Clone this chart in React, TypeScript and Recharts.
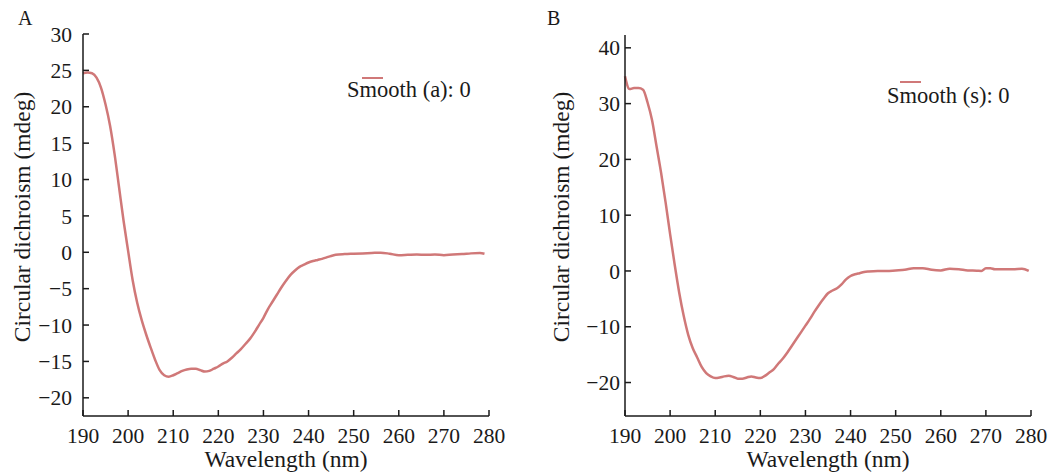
import React from 'react';
import { LineChart, Line, XAxis, YAxis, Legend } from 'recharts';

// Panel A: wavelength (nm) / circular dichroism (mdeg)
const wavelengthA = [
  190, 191, 192, 193, 194, 195, 196, 197, 198, 199, 200, 201, 202, 203, 204, 205, 206, 207, 208, 209,
  210, 211, 212, 213, 214, 215, 216, 217, 218, 219, 220, 221, 222, 223, 224, 225, 226, 227, 228, 229,
  230, 231, 232, 233, 234, 235, 236, 237, 238, 239, 240, 241, 242, 243, 244, 245, 246, 248, 250, 252,
  254, 256, 258, 260, 262, 264, 266, 268, 270, 272, 274, 276, 278, 279,
];
const cdA = [
  24.6, 24.7, 24.6, 24.0, 22.6, 20.3, 17.4, 13.5, 8.9, 4.3, 0.2, -3.8, -6.9, -9.3, -11.3, -13.1, -14.8, -16.2, -16.9, -17.1,
  -16.9, -16.6, -16.3, -16.1, -16.0, -16.0, -16.2, -16.4, -16.3, -16.0, -15.7, -15.3, -15.0, -14.5, -13.9, -13.3, -12.6, -11.9, -11.0, -10.0,
  -9.0, -7.8, -6.8, -5.8, -4.8, -3.9, -3.1, -2.5, -2.0, -1.7, -1.4, -1.2, -1.05, -0.9, -0.7, -0.5, -0.35, -0.25, -0.2, -0.15,
  -0.1, -0.05, -0.2, -0.4, -0.35, -0.3, -0.35, -0.3, -0.4, -0.3, -0.25, -0.15, -0.1, -0.2,
];

// Panel B
const wavelengthB = [
  190, 191, 192, 193, 194, 195, 196, 197, 198, 199, 200, 201, 202, 203, 204, 205, 206, 207, 208, 209,
  210, 211, 212, 213, 214, 215, 216, 217, 218, 219, 220, 221, 222, 223, 224, 225, 226, 227, 228, 229,
  230, 231, 232, 233, 234, 235, 236, 237, 238, 239, 240, 241, 242, 243, 244, 246, 248, 250, 252, 254,
  256, 258, 260, 262, 264, 266, 268, 269, 270, 271, 272, 274, 276, 278, 279.5,
];
const cdB = [
  34.9, 32.6, 32.8, 32.8, 32.5, 30.2, 27.0, 22.3, 17.6, 12.3, 6.6, 1.2, -3.8, -8.0, -11.4, -13.8, -15.5, -17.2, -18.3, -18.9,
  -19.2, -19.1, -18.9, -18.8, -19.0, -19.3, -19.3, -19.1, -18.9, -19.1, -19.2, -18.8, -18.2, -17.6, -16.6, -15.7, -14.6, -13.4, -12.2, -11.0,
  -9.8, -8.6, -7.3, -6.1, -5.0, -4.0, -3.5, -3.1, -2.4, -1.5, -0.9, -0.6, -0.4, -0.2, -0.1, 0.0, 0.0, 0.1, 0.2, 0.5,
  0.5, 0.2, 0.1, 0.4, 0.3, 0.1, 0.05, 0.0, 0.5, 0.5, 0.3, 0.3, 0.3, 0.4, 0.0,
];

const xTicks = [190, 200, 210, 220, 230, 240, 250, 260, 270, 280];
const yTicksA = [-20, -15, -10, -5, 0, 5, 10, 15, 20, 25, 30];
const yTicksB = [-20, -10, 0, 10, 20, 30, 40];

const FONT = '"Liberation Serif", "Times New Roman", serif';
const INK = '#1a1a1a';
const LINE = '#d07878';

const toRows = (xs: number[], ys: number[]) => xs.map((x, i) => ({ nm: x, cd: ys[i] }));

type PanelProps = {
  letter: string;
  name: string;
  rows: { nm: number; cd: number }[];
  yTicks: number[];
  yDomain: [number, number];
  left: number;
  width: number;
  margin: { top: number; right: number; bottom: number; left: number };
  yTickGap: number;
  yTitleX: number;
  legendPos: { left: number; top: number; lineLeft: number; textTop: number };
};

const Panel = (p: PanelProps) => {
  const yTitle = () => (
    <text
      x={p.yTitleX}
      y={217}
      transform={`rotate(-90, ${p.yTitleX}, 217)`}
      textAnchor="middle"
      dominantBaseline="central"
      fontFamily={FONT}
      fontSize={23.5}
      fill={INK}
    >
      Circular dichroism (mdeg)
    </text>
  );
  const xTitle = () => (
    <text
      x={p.margin.left + 60 + (p.width - p.margin.left - 60 - p.margin.right) / 2}
      y={467}
      textAnchor="middle"
      fontFamily={FONT}
      fontSize={23.5}
      fill={INK}
    >
      Wavelength (nm)
    </text>
  );
  const legend = (props: any) => (
    <div>
      {(props.payload || []).map((e: any) => (
        <div key={e.value} style={{ position: 'relative', width: 130, height: 30, fontFamily: FONT, fontSize: 22.5, color: INK }}>
          <div style={{ position: 'absolute', left: p.legendPos.lineLeft, top: 0, width: 21, height: 2, background: e.color }} />
          <div style={{ position: 'absolute', left: 0, top: p.legendPos.textTop, lineHeight: '22px', whiteSpace: 'nowrap' }}>
            {e.value}
          </div>
        </div>
      ))}
    </div>
  );
  return (
    <div style={{ position: 'absolute', left: p.left, top: 0 }}>
      <div style={{ position: 'absolute', left: p.left === 0 ? 18 : 22, top: 8, fontFamily: FONT, fontSize: 20, lineHeight: '20px', color: INK }}>
        {p.letter}
      </div>
      <LineChart width={p.width} height={475} data={p.rows} margin={p.margin}>
        <XAxis
          dataKey="nm"
          type="number"
          domain={[190, 280]}
          ticks={xTicks}
          interval={0}
          height={30}
          tickSize={-6}
          tickMargin={18}
          axisLine={{ stroke: INK, strokeWidth: 1.5 }}
          tickLine={{ stroke: INK, strokeWidth: 1.5 }}
          tick={{ fill: INK, fontSize: 21.5, fontFamily: FONT }}
          label={xTitle}
        />
        <YAxis
          type="number"
          domain={p.yDomain}
          ticks={p.yTicks}
          interval={0}
          width={60}
          allowDataOverflow
          tickSize={-6}
          tickMargin={6 + p.yTickGap}
          axisLine={{ stroke: INK, strokeWidth: 1.5 }}
          tickLine={{ stroke: INK, strokeWidth: 1.5 }}
          tick={{ fill: INK, fontSize: 21.5, fontFamily: FONT }}
          tickFormatter={(v: number) => (v < 0 ? `\u2212${Math.abs(v)}` : `${v}`)}
          label={yTitle}
        />
        <Legend
          layout="vertical"
          align="center"
          verticalAlign="middle"
          content={legend}
          wrapperStyle={{ left: p.legendPos.left, top: p.legendPos.top, width: 'auto', height: 'auto' }}
        />
        <Line
          type="monotone"
          dataKey="cd"
          name={p.name}
          stroke={LINE}
          strokeWidth={2.5}
          dot={false}
          isAnimationActive={false}
        />
      </LineChart>
    </div>
  );
};

export default function App() {
  return (
    <div style={{ position: 'absolute', left: 0, top: 0, width: 1051, height: 475, background: '#fff' }}>
      <Panel
        letter="A"
        name="Smooth (a): 0"
        rows={toRows(wavelengthA, cdA)}
        yTicks={yTicksA}
        yDomain={[-22.5, 30]}
        left={0}
        width={525}
        margin={{ top: 34, right: 36, bottom: 29, left: 23 }}
        yTickGap={11}
        yTitleX={22}
        legendPos={{ left: 347, top: 77, lineLeft: 15, textTop: 2 }}
      />
      <Panel
        letter="B"
        name="Smooth (s): 0"
        rows={toRows(wavelengthB, cdB)}
        yTicks={yTicksB}
        yDomain={[-26, 42.3]}
        left={525}
        width={526}
        margin={{ top: 35, right: 20, bottom: 29, left: 40 }}
        yTickGap={5}
        yTitleX={36}
        legendPos={{ left: 362, top: 81, lineLeft: 13, textTop: 4 }}
      />
    </div>
  );
}
